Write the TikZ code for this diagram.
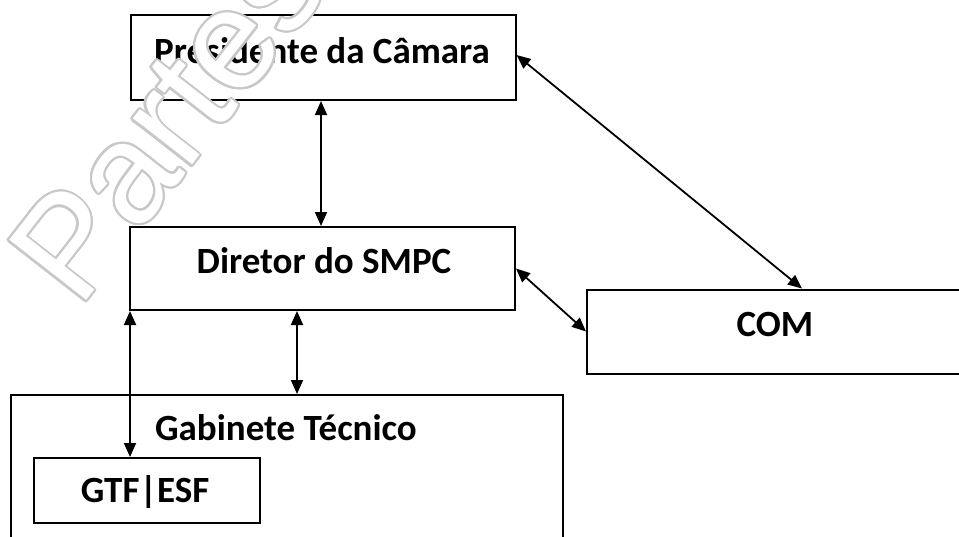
\documentclass[tikz,border=0pt]{standalone}
\usepackage{fontspec}
\setmainfont{Carlito}
\newfontfamily\wmfont{Liberation Sans}
\usetikzlibrary{arrows.meta,calc}
\definecolor{wmgray}{RGB}{200,200,200}
\tikzset{
  box/.style={draw=black, line width=2pt, inner sep=0pt, fill=none},
  lbl/.style={inner sep=0pt, anchor=base, font=\fontsize{37}{40}\selectfont\bfseries},
  link/.style={line width=1.8pt, {Triangle[length=14pt,width=12pt]}-{Triangle[length=14pt,width=12pt]}},
  wmark/.style={inner sep=0pt, anchor=base west, rotate=52, font=\wmfont\fontsize{142}{150}\selectfont}
}
\begin{document}
\begin{tikzpicture}[x=1pt,y=-1pt]
\useasboundingbox (0,0) rectangle (959,536);
\clip (0,0) rectangle (959,536);
\fill[white] (0,0) rectangle (959,536);

% boxes
\node[box, minimum width=385pt, minimum height=85pt] (pres) at (323,57.5) {};
\node[box, minimum width=385pt, minimum height=83pt] (dir) at (322.5,268.5) {};
\node[box, minimum width=390pt, minimum height=84pt] (com) at (782,331.5) {};
\node[box, minimum width=552pt, minimum height=170pt] (gab) at (287,480) {};
\node[box, minimum width=226pt, minimum height=65pt] (gtf) at (147,490.5) {};

% labels
\node[lbl] (tpres) at (322,63) {Presidente da Câmara};
\node[lbl] (tdir) at (324,273) {Diretor do SMPC};
\node[lbl] (tcom) at (775,336) {COM};
\node[lbl] (tgab) at (286,440) {Gabinete Técnico};
\node[lbl] (tgtf) at (145,502) {GTF|ESF};

% connectors
\draw[link] ([xshift=-2pt]pres.south) -- ([xshift=-2pt]pres.south |- dir.north);
\draw[link] ([xshift=-25.5pt]dir.south) -- ([xshift=-25.5pt]dir.south |- gab.north);
\draw[link] ([xshift=1pt]dir.south west) -- ([xshift=1pt]dir.south west |- gtf.north);
\draw[link] ([yshift=2.5pt]pres.east) -- ([xshift=20pt]com.north);
\draw[link] (dir.east) -- (com.west);

% outlined watermark
\coordinate (wm) at (79,310);
\foreach \a in {0,22.5,...,337.5}
  \node[wmark, text=wmgray] at ($(wm)+(\a:2.2)$) {Partes};
\node[wmark, text=white] (wmtext) at (wm) {Partes};
\end{tikzpicture}
\end{document}
